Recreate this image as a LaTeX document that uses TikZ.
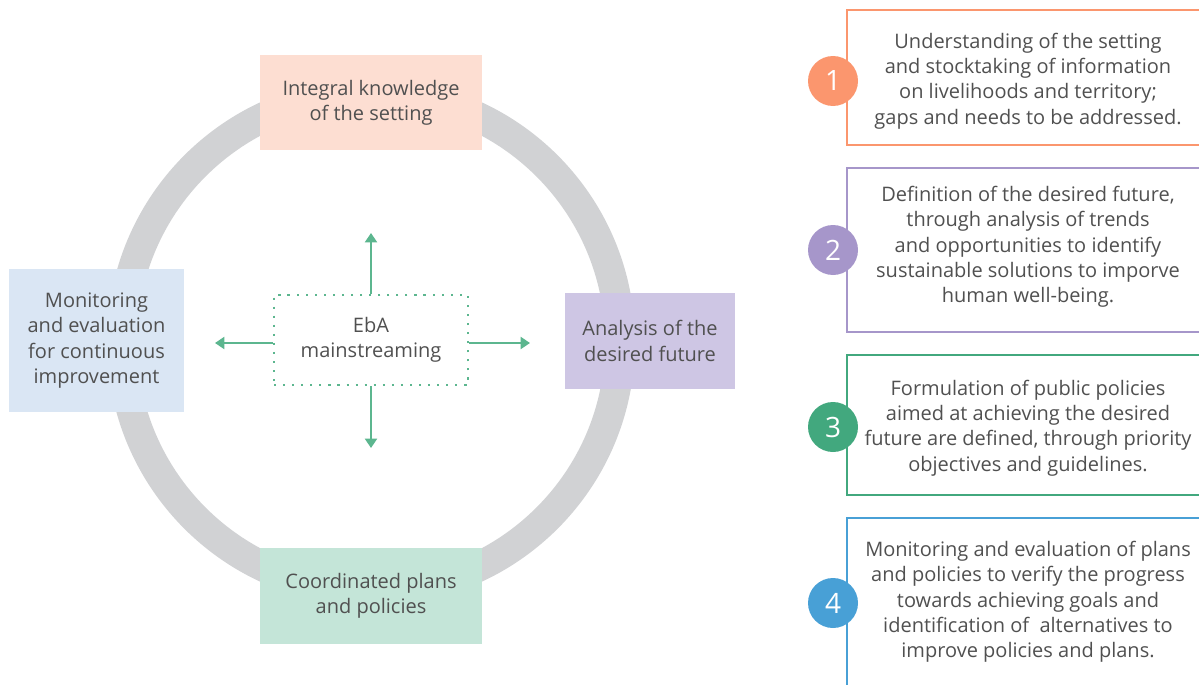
\documentclass[tikz,border=0pt]{standalone}
\usepackage{fontspec}
\setmainfont{Open Sans}
\usetikzlibrary{arrows.meta}
\definecolor{txt}{RGB}{80,80,80}
\definecolor{ring}{RGB}{209,210,212}
\definecolor{peach}{RGB}{253,222,210}
\definecolor{lblue}{RGB}{218,230,244}
\definecolor{lav}{RGB}{206,198,228}
\definecolor{mint}{RGB}{196,229,216}
\definecolor{agreen}{RGB}{92,182,143}
\definecolor{c1}{RGB}{251,150,110}
\definecolor{c2}{RGB}{166,150,202}
\definecolor{c3}{RGB}{66,168,126}
\definecolor{c4}{RGB}{72,160,214}
\tikzset{
  stagebox/.style={inner sep=0pt, align=center, text=txt, font=\fontsize{15pt}{18.9pt}\selectfont},
  ebabox/.style={draw=agreen, line width=1.6pt, dash pattern=on 1.6pt off 5.2pt, inner sep=0pt, align=center, text=txt, font=\fontsize{15pt}{18.9pt}\selectfont, minimum width=145.5pt, minimum height=67.5pt},
  outarrow/.style={draw=agreen, line width=1.5pt, -{Triangle[width=9pt,length=7pt]}},
  stepframe/.style={line width=1.8pt},
  numdot/.style={circle, inner sep=0pt, minimum size=37.5pt, text=white, font=\fontsize{21pt}{22pt}\selectfont},
  desc/.style={align=center, text=txt, font=\fontsize{15pt}{19pt}\selectfont, inner sep=0pt}
}
\begin{document}
\begin{tikzpicture}[x=0.75pt,y=-0.75pt]
\useasboundingbox (0,0) rectangle (1199,685);
% ring
\draw[ring, line width=22.5pt] (371,342) circle[radius=186.75pt];
% stage boxes
\node[stagebox, fill=peach, minimum width=166.5pt, minimum height=71.25pt] (top) at (371,102.5) {Integral knowledge\\of the setting};
\node[stagebox, fill=lblue, minimum width=131.25pt, minimum height=107.25pt] (left) at (96.5,340.5) {Monitoring\\and evaluation\\for continuous\\improvement};
\node[stagebox, fill=lav, minimum width=127.5pt, minimum height=72pt] (right) at (650,341) {Analysis of the\\desired future};
\node[stagebox, fill=mint, minimum width=166.5pt, minimum height=72pt] (bottom) at (371,596) {Coordinated plans\\and policies};
% center
\node[ebabox] (eba) at (371,340) {EbA\\mainstreaming};
\coordinate (aup) at (371,233);
\coordinate (adown) at (371,448);
\coordinate (aleft) at (215,343);
\coordinate (aright) at (530,343);
\draw[outarrow] (eba.north) -- (aup);
\draw[outarrow] (eba.south) -- (adown);
\draw[outarrow] (eba.west |- aleft) -- (aleft);
\draw[outarrow] (eba.east |- aright) -- (aright);
% right step frames
\draw[stepframe, c1] (1215,10) -- (847,10) -- (847,145) -- (1215,145);
\draw[stepframe, c2] (1215,168) -- (847,168) -- (847,332) -- (1215,332);
\draw[stepframe, c3] (1215,355) -- (847,355) -- (847,495) -- (1215,495);
\draw[stepframe, c4] (1215,518) -- (847,518) -- (847,700);
\node[numdot, fill=c1] (n1) at (833,81) {1};
\node[numdot, fill=c2] (n2) at (833,250) {2};
\node[numdot, fill=c3] (n3) at (833,427) {3};
\node[numdot, fill=c4] (n4) at (833,603) {4};
\node[desc] (d1) at (1028,81) {Understanding of the setting\\and stocktaking of information\\on livelihoods and territory;\\gaps and needs to be addressed.};
\node[desc] (d2) at (1028,247) {Definition of the desired future,\\through analysis of trends\\and opportunities to identify\\sustainable solutions to imporve\\human well-being.};
\node[desc] (d3) at (1028,428) {Formulation of public policies\\aimed at achieving the desired\\future are defined, through priority\\objectives and guidelines.};
\node[desc] (d4) at (1028,602) {Monitoring and evaluation of plans\\and policies to verify the progress\\towards achieving goals and\\identification of\ \ alternatives to\\improve policies and plans.};
\end{tikzpicture}
\end{document}
